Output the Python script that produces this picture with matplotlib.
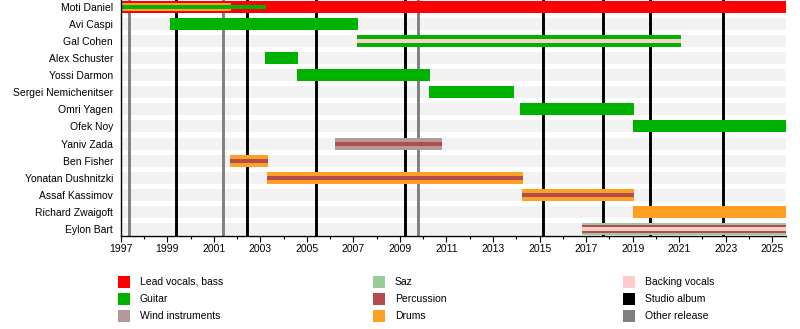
import matplotlib
matplotlib.use("Agg")
import matplotlib.pyplot as plt
from matplotlib.patches import Rectangle
from matplotlib.ticker import MultipleLocator

plt.rcParams["font.family"] = ["Liberation Sans", "DejaVu Sans"]

END = 2025.59

members = ["Moti Daniel", "Avi Caspi", "Gal Cohen", "Alex Schuster", "Yossi Darmon",
           "Sergei Nemichenitser", "Omri Yagen", "Ofek Noy", "Yaniv Zada", "Ben Fisher",
           "Yonatan Dushnitzki", "Assaf Kassimov", "Richard Zwaigoft", "Eylon Bart"]

# one entry per bar, drawn in order (later bars lie on top of earlier ones)
bar_member = ["Moti Daniel", "Moti Daniel", "Moti Daniel",
              "Avi Caspi",
              "Gal Cohen", "Gal Cohen",
              "Alex Schuster", "Yossi Darmon", "Sergei Nemichenitser", "Omri Yagen", "Ofek Noy",
              "Yaniv Zada", "Yaniv Zada",
              "Ben Fisher", "Ben Fisher",
              "Yonatan Dushnitzki", "Yonatan Dushnitzki",
              "Assaf Kassimov", "Assaf Kassimov",
              "Richard Zwaigoft",
              "Eylon Bart", "Eylon Bart", "Eylon Bart"]
bar_start = [1997.0, 1997.0, 1997.0,
             1999.12,
             2007.15, 2007.15,
             2003.2, 2004.58, 2010.25, 2014.16, 2019.0,
             2006.21, 2006.21,
             2001.7, 2001.7,
             2003.29, 2003.29,
             2014.25, 2014.25,
             2019.0,
             2016.82, 2016.82, 2016.82]
bar_end = [END, 2001.73, 2003.23,
           2007.18,
           2021.08, 2021.08,
           2004.6, 2010.29, 2013.9, 2019.06, END,
           2010.81, 2010.81,
           2003.33, 2003.33,
           2014.29, 2014.29,
           2019.06, 2019.06,
           END,
           END, END, END]
bar_role = ["Lead vocals, bass", "Drums", "Guitar",
            "Guitar",
            "Guitar", "Backing vocals",
            "Guitar", "Guitar", "Guitar", "Guitar", "Guitar",
            "Wind instruments", "Percussion",
            "Drums", "Percussion",
            "Drums", "Percussion",
            "Drums", "Percussion",
            "Drums",
            "Saz", "Percussion", "Backing vocals"]

studio_albums = [1999.38, 2002.41, 2005.39, 2009.22, 2015.16, 2017.74, 2019.75, 2022.90]
other_releases = [1997.36, 2001.40, 2009.79]

legend_labels = ["Lead vocals, bass", "Guitar", "Wind instruments",
                 "Saz", "Percussion", "Drums",
                 "Backing vocals", "Studio album", "Other release"]
colors = {
    "Lead vocals, bass": "#ff0000",
    "Guitar": "#00b200",
    "Wind instruments": "#b39a9a",
    "Saz": "#99cc99",
    "Percussion": "#b34d4d",
    "Drums": "#ff9f24",
    "Backing vocals": "#ffcccc",
    "Studio album": "#000000",
    "Other release": "#808080",
}

W, H = 800, 329
fig = plt.figure(figsize=(W / 100, H / 100), dpi=100)
fig.patch.set_facecolor("white")

# plot area in pixels: x 120.7..786, y 0..236
ax = fig.add_axes([120.7 / W, 1 - 236 / H, (786 - 120.7) / W, 236 / H])
ax.set_xlim(1997, END)
ax.set_ylim(13.41, -0.4)

ROW_H = 12 / 17.1  # bar thickness in row units

ypos = {m: i for i, m in enumerate(members)}
for m in members:
    ax.barh(ypos[m], END - 1997, left=1997, height=ROW_H, color="#f2f2f2", zorder=1)

for x in other_releases:
    ax.axvline(x, color=colors["Other release"], lw=2.1, zorder=2)
for x in studio_albums:
    ax.axvline(x, color=colors["Studio album"], lw=2.1, zorder=2)

# layered bars: 1 layer -> full; 2 -> full + thin; 3 -> full + 2/3 + 1/3
layer_sizes = {1: [1.0], 2: [1.0, 1 / 3], 3: [1.0, 2 / 3, 1 / 3]}
count = {m: bar_member.count(m) for m in members}
seen = {m: 0 for m in members}
for m, s, e, r in zip(bar_member, bar_start, bar_end, bar_role):
    frac = layer_sizes[count[m]][seen[m]]
    seen[m] += 1
    ax.barh(ypos[m], e - s, left=s, height=ROW_H * frac, color=colors[r], zorder=3)

ax.set_yticks(range(len(members)))
ax.set_yticklabels(members, fontsize=7.5)
ax.tick_params(axis="y", length=0, pad=5.5)

ax.xaxis.set_minor_locator(MultipleLocator(1))
ax.set_xticks(range(1997, 2026, 2))
ax.tick_params(axis="x", which="major", length=4, width=0.8, labelsize=7.5, pad=2)
ax.tick_params(axis="x", which="minor", length=2.5, width=0.8)
for sp in ["top", "right"]:
    ax.spines[sp].set_visible(False)
ax.spines["left"].set_linewidth(1.0)
ax.spines["bottom"].set_linewidth(1.0)
ax.spines["left"].set_zorder(5)

# legend, three columns
col_x = [118, 372.7, 623]
row_y = [282, 299, 316]
for i, lab in enumerate(legend_labels):
    cx = col_x[i // 3]
    cy = row_y[i % 3]
    fig.add_artist(Rectangle((cx / W, 1 - (cy + 6) / H), 12 / W, 12 / H,
                             transform=fig.transFigure, facecolor=colors[lab], edgecolor="none"))
    fig.text((cx + 22) / W, 1 - cy / H, lab, fontsize=7.5, ha="left", va="center")

fig.savefig("out.png", dpi=100, facecolor="white")
